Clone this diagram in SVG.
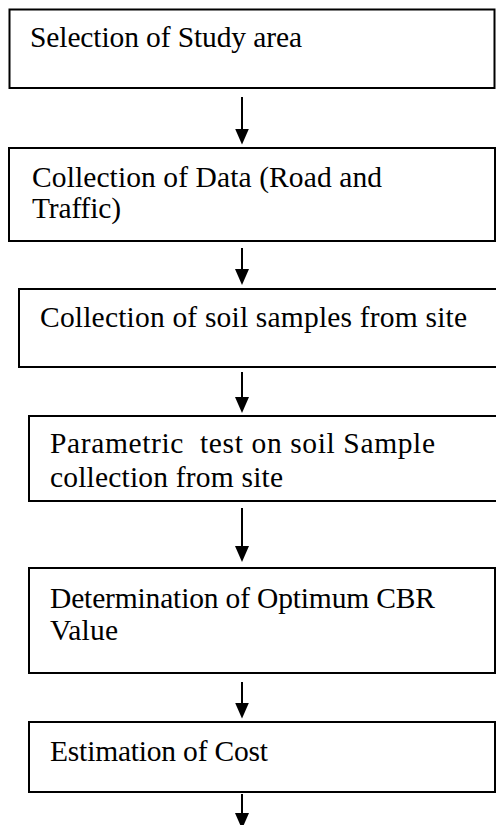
<svg xmlns="http://www.w3.org/2000/svg" width="496" height="825" viewBox="0 0 496 825">
  <style>
    .box { fill: #ffffff; stroke: #000000; stroke-width: 2; }
    .conn { stroke: #000000; stroke-width: 2; fill: none; marker-end: url(#head); }
  </style>
  <defs>
    <marker id="head" markerUnits="userSpaceOnUse" markerWidth="16" markerHeight="14" refX="13" refY="7" orient="auto">
      <path d="M0,0 L16,7 L0,14 Z" fill="#000000"/>
    </marker>
  </defs>
  <rect width="496" height="825" fill="#ffffff"/>

  <g font-family="Liberation Serif, Times New Roman, serif" font-size="29.5" fill="#000000">
    <g id="step-study-area">
      <rect class="box" x="9.5" y="9.5" width="485" height="78.5"/>
      <text x="30" y="46.7" textLength="272" lengthAdjust="spacing">Selection of Study area</text>
    </g>

    <g id="step-data">
      <rect class="box" x="9" y="148" width="486" height="93"/>
      <text x="32" y="186.5" textLength="350" lengthAdjust="spacing">Collection of Data (Road and</text>
      <text x="32" y="218" textLength="89" lengthAdjust="spacing">Traffic)</text>
    </g>

    <g id="step-soil-samples">
      <rect class="box" x="19" y="289" width="490" height="78"/>
      <text x="40" y="327" textLength="427" lengthAdjust="spacing">Collection of soil samples from site</text>
    </g>

    <g id="step-parametric-test">
      <rect class="box" x="29" y="416" width="480" height="85"/>
      <text x="50" y="453.3" textLength="385" lengthAdjust="spacing" xml:space="preserve">Parametric  test on soil Sample</text>
      <text x="50" y="486.7" textLength="233" lengthAdjust="spacing">collection from site</text>
    </g>

    <g id="step-cbr">
      <rect class="box" x="29" y="568" width="466" height="105"/>
      <text x="50" y="608.3" textLength="385" lengthAdjust="spacing">Determination of Optimum CBR</text>
      <text x="50" y="640" textLength="68" lengthAdjust="spacing">Value</text>
    </g>

    <g id="step-cost">
      <rect class="box" x="29" y="722" width="466" height="70"/>
      <text x="50" y="760.7" textLength="218" lengthAdjust="spacing">Estimation of Cost</text>
    </g>
  </g>

  <g id="connectors">
    <line class="conn" x1="242" y1="97" x2="242" y2="141.5"/>
    <line class="conn" x1="242" y1="248" x2="242" y2="282"/>
    <line class="conn" x1="242" y1="372" x2="242" y2="410"/>
    <line class="conn" x1="242" y1="508" x2="242" y2="559"/>
    <line class="conn" x1="242" y1="682" x2="242" y2="715.5"/>
    <line class="conn" x1="242" y1="794" x2="242" y2="826"/>
  </g>
</svg>
